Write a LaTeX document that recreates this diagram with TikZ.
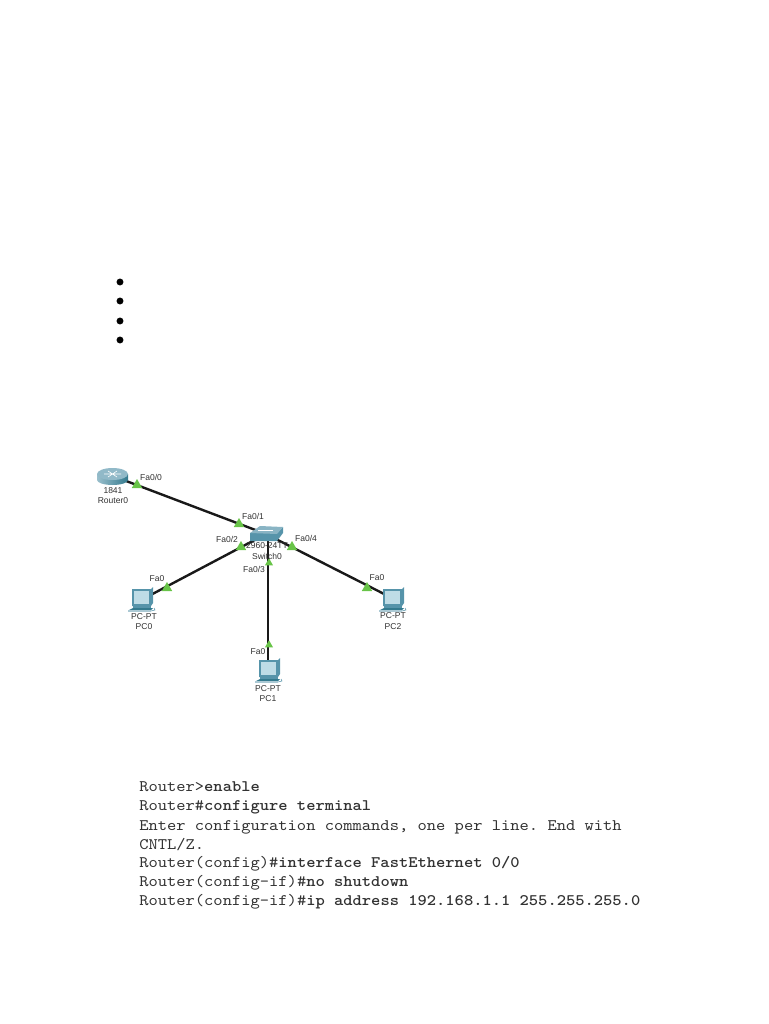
\documentclass[tikz,border=0pt]{standalone}
\usepackage{fontspec}
\setmainfont{Liberation Sans}
\setmonofont[Extension=.otf, BoldFont=lmmonolt10-bold, FakeStretch=1.1]{lmmono10-regular}
\usepackage{xcolor}
\usetikzlibrary{shapes.geometric,positioning,backgrounds}
\definecolor{linkgreen}{RGB}{104, 196, 72}
\definecolor{labelgray}{RGB}{50, 50, 50}
\definecolor{ciscodark}{RGB}{52, 122, 142}
\definecolor{ciscomid}{RGB}{86, 148, 170}
\definecolor{ciscolight}{RGB}{190, 220, 230}
\definecolor{termgray}{RGB}{50, 50, 50}
\tikzset{
    device/.style={inner sep=0pt, minimum width=24pt, minimum height=14pt},
    portmark/.style={regular polygon, regular polygon sides=3, fill=linkgreen, inner sep=0pt, minimum size=9pt},
    smallmark/.style={portmark, minimum size=7pt},
    portlabel/.style={font=\fontsize{6.4pt}{7pt}\selectfont, text=labelgray, inner sep=0pt},
    devlabel/.style={font=\fontsize{6.4pt}{7pt}\selectfont, text=labelgray, inner sep=0pt},
    termline/.style={anchor=west, inner sep=0pt, font=\ttfamily\fontsize{12.05pt}{13pt}\selectfont, text=termgray},
    bulletdot/.style={circle, fill=black, inner sep=0pt, minimum size=5.2pt},
    netlink/.style={line width=1.8pt, black!90},
    pcicon/.pic={
        % monitor
        \fill[ciscomid] (-9,-11) -- (10,-11) -- (12,-13) -- (12,3) -- (10,6) -- (-9,6) -- cycle;
        \fill[ciscolight] (-7,-9) rectangle (8,4);
        % base
        \fill[ciscomid] (-8,6) -- (10,6) -- (10,8) -- (-8,8) -- cycle;
        \fill[ciscodark] (-12,10) -- (-8,8) -- (12,8) -- (10,10) -- cycle;
        \fill[ciscomid!50] (-13,10) rectangle (10,12);
        \draw[ciscomid, line width=0.4pt] (10,11) -- (14,10) -- (13,8);
    },
}

\begin{document}
\begin{tikzpicture}[x=0.75pt, y=-0.75pt]
    \useasboundingbox (0,0) rectangle (768,1024);

    % Bullets
    \foreach \yb/\nb in {282/1, 301/2, 321/3, 340/4}
        \node[bulletdot] (bullet\nb) at (120, \yb) {};

    % Devices
    \node[device] (router0) at (113, 476) {};
    \node[device] (switch0) at (266, 534) {};
    \node[device] (pc0) at (143, 599) {};
    \node[device] (pc1) at (268, 670) {};
    \node[device] (pc2) at (392, 598) {};

    % Links
    \begin{scope}[on background layer]
        \draw[netlink] (router0.center) -- (switch0.center);
        \draw[netlink] (pc0.center) -- (switch0.center);
        \draw[netlink] (pc1.center) -- (pc1 |- switch0);
        \draw[netlink] (pc2.center) -- (switch0.center);
    \end{scope}

    % Router icon
    \shade[left color=ciscomid!60, right color=ciscodark] (97,474) -- (97,480) arc[start angle=180, end angle=0, x radius=15.5, y radius=5] -- (128,474) -- cycle;
    \fill[ciscomid!65] (112.5,474) ellipse[x radius=15.5, y radius=6];
    \draw[white, line width=0.5pt] (104,474) -- (121,474) (108,471) -- (117,477) (117,471) -- (108,477);

    % Switch icon
    \fill[ciscomid] (250,533) -- (277,533) -- (283,527) -- (283,533) -- (277,541) -- (250,541) -- cycle;
    \fill[ciscomid!70] (250,533) -- (260,526) -- (283,527) -- (277,534) -- cycle;
    \draw[white, line width=0.3pt] (258,530) -- (273,530);

    % PC icons
    \pic at (141, 600) {pcicon};
    \pic at (268, 671) {pcicon};
    \pic at (392, 600) {pcicon};

    % Port markers
    \node[portmark] (mark1) at (137, 485) {};
    \node[portmark] (mark2) at (239, 524) {};
    \node[portmark] (mark3) at (241, 547) {};
    \node[portmark] (mark4) at (292, 547) {};
    \node[smallmark] (mark5) at (269, 563) {};
    \node[portmark] (mark6) at (167, 588) {};
    \node[portmark] (mark7) at (367, 588) {};
    \node[smallmark] (mark8) at (269, 645) {};

    % Port labels
    \node[portlabel] (fa00) at (151, 477) {Fa0/0};
    \node[portlabel] (fa01) at (253, 516) {Fa0/1};
    \node[portlabel] (fa02) at (227, 539) {Fa0/2};
    \node[portlabel] (fa04) at (306, 538) {Fa0/4};
    \node[portlabel] (fa03) at (254, 569) {Fa0/3};
    \node[portlabel] (fapc0) at (157, 579) {Fa0};
    \node[portlabel] (fapc1) at (258, 652) {Fa0};
    \node[portlabel] (fapc2) at (377, 578) {Fa0};

    % Device labels
    \node[devlabel] (router0model) at (113, 491) {1841};
    \node[devlabel] (router0name) at (113, 501) {Router0};
    \node[devlabel] (switch0model) at (267, 546) {2960-24TT};
    \node[devlabel] (switch0name) at (267, 556) {Switch0};
    \node[devlabel] (pc0model) at (144, 617) {PC-PT};
    \node[devlabel] (pc0name) at (144, 627) {PC0};
    \node[devlabel] (pc1model) at (268, 689) {PC-PT};
    \node[devlabel] (pc1name) at (268, 699) {PC1};
    \node[devlabel] (pc2model) at (393, 616) {PC-PT};
    \node[devlabel] (pc2name) at (393, 627) {PC2};

    % Terminal text
    \node[termline] (cmd1) at (139, 787) {Router>\textbf{enable}};
    \node[termline] (cmd2) at (139, 807) {Router\#\textbf{configure terminal}};
    \node[termline] (cmd3) at (139, 827) {Enter configuration commands, one per line. End with};
    \node[termline] (cmd4) at (139, 845) {CNTL/Z.};
    \node[termline] (cmd5) at (139, 864) {Router(config)\#\textbf{interface FastEthernet 0/0}};
    \node[termline] (cmd6) at (139, 883) {Router(config-if)\#\textbf{no shutdown}};
    \node[termline] (cmd7) at (139, 902) {Router(config-if)\#\textbf{ip address 192.168.1.1 255.255.255.0}};
\end{tikzpicture}
\end{document}
